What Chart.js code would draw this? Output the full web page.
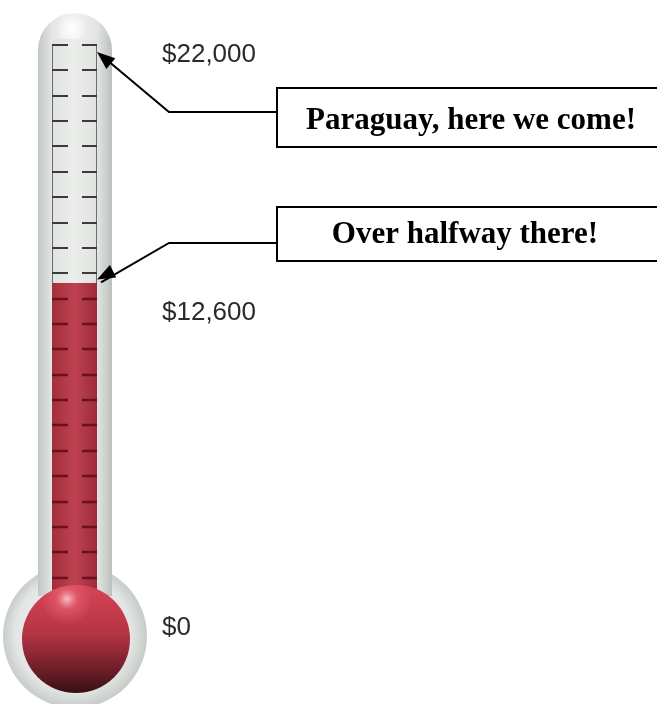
<!DOCTYPE html>
<html>
<head>
<meta charset="utf-8">
<script src="https://cdn.jsdelivr.net/npm/chart.js@4.4.1/dist/chart.umd.min.js"></script>
<style>
  html, body { margin: 0; padding: 0; background: #ffffff; }
  canvas { display: block; }
</style>
</head>
<body>
<canvas id="thermo" width="657" height="704"></canvas>
<script>
// fundraising thermometer data
const categories = ['Raised'];
const raisedValues = [12600];
const goalValue = 22000;
const tickStep = 1000;
const scaleLabelValues = [22000, 12600, 0];
const scaleLabels = ['$22,000', '$12,600', '$0'];
const noteValues = [22000, 12600];
const noteTexts = ['Paraguay, here we come!', 'Over halfway there!'];

// look of the glass + callouts (pixels, style only)
const look = {
    labelX: 162,
    labelNudge: [10, 29, 25],
    tipNudge: [7, -4],
    elbowX: 169,
    elbowY: [112, 243],
    boxLeft: 277,
    boxRight: 668,
    boxTop: [88, 207],
    boxBottom: [147, 261],
    textBase: [129, 243],
    textX: [471, 465],
};

const thermoPlugin = {
    id: 'thermo',
    beforeDatasetsDraw(chart) {
        const { ctx, chartArea: a } = chart;
        const cx = (a.left + a.right) / 2 + 0.5;
        const bulbY = a.bottom + 33;
        ctx.save();

        // outer glass bulb
        let g = ctx.createRadialGradient(cx - 8, bulbY - 10, 10, cx, bulbY, 74);
        g.addColorStop(0, '#f4f5f4');
        g.addColorStop(0.75, '#e3e6e4');
        g.addColorStop(1, '#c3c8c5');
        ctx.fillStyle = g;
        ctx.beginPath();
        ctx.arc(cx, bulbY, 72, 0, Math.PI * 2);
        ctx.fill();

        // outer glass tube
        const tl = a.left - 14, tr = a.right + 15, top = a.top - 32;
        g = ctx.createLinearGradient(tl, 0, tr, 0);
        g.addColorStop(0, '#c3c7c4');
        g.addColorStop(0.2, '#e4e7e5');
        g.addColorStop(0.5, '#eff1ef');
        g.addColorStop(0.8, '#e2e5e3');
        g.addColorStop(1, '#bcc0bd');
        ctx.fillStyle = g;
        const r = (tr - tl) / 2;
        ctx.beginPath();
        ctx.moveTo(tl, bulbY - 40);
        ctx.lineTo(tl, top + r);
        ctx.arc(tl + r, top + r, r, Math.PI, 0);
        ctx.lineTo(tr, bulbY - 40);
        ctx.closePath();
        ctx.fill();

        // top highlight
        g = ctx.createRadialGradient(cx - 4, top + 16, 1, cx - 4, top + 16, 16);
        g.addColorStop(0, 'rgba(255,255,255,0.95)');
        g.addColorStop(1, 'rgba(255,255,255,0)');
        ctx.fillStyle = g;
        ctx.beginPath();
        ctx.arc(cx - 4, top + 16, 16, 0, Math.PI * 2);
        ctx.fill();

        // inner (empty) column
        g = ctx.createLinearGradient(a.left, 0, a.right, 0);
        g.addColorStop(0, '#dfe2df');
        g.addColorStop(0.5, '#eceeec');
        g.addColorStop(1, '#dfe2df');
        ctx.fillStyle = g;
        ctx.fillRect(a.left, a.top - 6, a.right - a.left, a.bottom - a.top + 6);

        ctx.strokeStyle = '#6a6d6a';
        ctx.lineWidth = 1;
        ctx.beginPath();
        ctx.moveTo(a.left + 0.5, a.top - 1);
        ctx.lineTo(a.left + 0.5, a.bottom);
        ctx.moveTo(a.right - 0.5, a.top - 1);
        ctx.lineTo(a.right - 0.5, a.bottom);
        ctx.stroke();
        ctx.restore();
    },
    afterDatasetsDraw(chart) {
        const { ctx, chartArea: a } = chart;
        const y = chart.scales.y;
        const cx = (a.left + a.right) / 2 + 0.5;
        const bulbY = a.bottom + 36;
        const level = y.getPixelForValue(raisedValues[0]);
        ctx.save();

        // tick dashes
        for (let v = tickStep; v <= goalValue; v += tickStep) {
            const py = Math.round(y.getPixelForValue(v));
            const inRed = py > level;
            ctx.strokeStyle = inRed ? '#6a111c' : '#3a3a3a';
            ctx.lineWidth = inRed ? 2.5 : 2;
            ctx.beginPath();
            ctx.moveTo(a.left, py);
            ctx.lineTo(a.left + 16, py);
            ctx.moveTo(a.right - 15, py);
            ctx.lineTo(a.right, py);
            ctx.stroke();
        }

        // red bulb
        let g = ctx.createLinearGradient(0, bulbY - 54, 0, bulbY + 54);
        g.addColorStop(0, '#d64456');
        g.addColorStop(0.45, '#b53444');
        g.addColorStop(0.8, '#6a1d27');
        g.addColorStop(1, '#361014');
        ctx.fillStyle = g;
        ctx.beginPath();
        ctx.arc(cx + 1, bulbY, 54, 0, Math.PI * 2);
        ctx.fill();
        g = ctx.createRadialGradient(cx - 8, bulbY - 40, 1, cx - 8, bulbY - 40, 26);
        g.addColorStop(0, 'rgba(255,200,205,0.85)');
        g.addColorStop(0.4, 'rgba(240,110,125,0.45)');
        g.addColorStop(1, 'rgba(240,110,125,0)');
        ctx.fillStyle = g;
        ctx.beginPath();
        ctx.arc(cx + 1, bulbY, 54, 0, Math.PI * 2);
        ctx.fill();

        // value labels
        ctx.fillStyle = '#2a2a2a';
        ctx.font = '26px "Liberation Sans", Arial, sans-serif';
        ctx.textBaseline = 'middle';
        ctx.textAlign = 'left';
        scaleLabelValues.forEach((v, i) => {
            ctx.fillText(scaleLabels[i], look.labelX, y.getPixelForValue(v) + look.labelNudge[i]);
        });

        // callouts
        ctx.textBaseline = 'alphabetic';
        noteValues.forEach((v, i) => {
            const tx = a.right, ty = y.getPixelForValue(v) + look.tipNudge[i];
            const ex = look.elbowX, ey = look.elbowY[i];
            ctx.strokeStyle = '#000';
            ctx.lineWidth = 2;
            ctx.beginPath();
            ctx.moveTo(look.boxLeft, ey);
            ctx.lineTo(ex, ey);
            ctx.lineTo(tx + 4, ty + 3);
            ctx.stroke();
            const ang = Math.atan2(ty - ey, tx - ex);
            ctx.fillStyle = '#000';
            ctx.beginPath();
            ctx.moveTo(tx, ty);
            ctx.lineTo(tx - 18 * Math.cos(ang) + 7 * Math.sin(ang), ty - 18 * Math.sin(ang) - 7 * Math.cos(ang));
            ctx.lineTo(tx - 18 * Math.cos(ang) - 7 * Math.sin(ang), ty - 18 * Math.sin(ang) + 7 * Math.cos(ang));
            ctx.closePath();
            ctx.fill();

            const bt = look.boxTop[i], bb = look.boxBottom[i];
            ctx.fillStyle = '#fff';
            ctx.fillRect(look.boxLeft, bt, look.boxRight - look.boxLeft, bb - bt);
            ctx.lineWidth = 2;
            ctx.strokeRect(look.boxLeft, bt, look.boxRight - look.boxLeft, bb - bt);
            ctx.fillStyle = '#000';
            ctx.font = 'bold 31px "Liberation Serif", "DejaVu Serif", serif';
            ctx.textAlign = 'center';
            ctx.fillText(noteTexts[i], look.textX[i], look.textBase[i]);
            ctx.textAlign = 'left';
        });
        ctx.restore();
    }
};

new Chart(document.getElementById('thermo'), {
    type: 'bar',
    data: {
        labels: categories,
        datasets: [{
            data: raisedValues,
            barPercentage: 1,
            categoryPercentage: 1,
            borderWidth: 0,
            backgroundColor: (c) => {
                const a = c.chart.chartArea;
                if (!a) return '#b53a48';
                const g = c.chart.ctx.createLinearGradient(a.left, 0, a.right, 0);
                g.addColorStop(0, '#a22e3d');
                g.addColorStop(0.5, '#bd4251');
                g.addColorStop(1, '#9e2b3a');
                return g;
            },
        }],
    },
    options: {
        responsive: false,
        animation: false,
        layout: { padding: { left: 52, right: 560, top: 45, bottom: 101 } },
        scales: {
            x: { display: false },
            y: { display: false, min: 0, max: goalValue, ticks: { stepSize: tickStep } },
        },
        plugins: { legend: { display: false }, tooltip: { enabled: false } },
    },
    plugins: [thermoPlugin],
});
</script>
</body>
</html>
